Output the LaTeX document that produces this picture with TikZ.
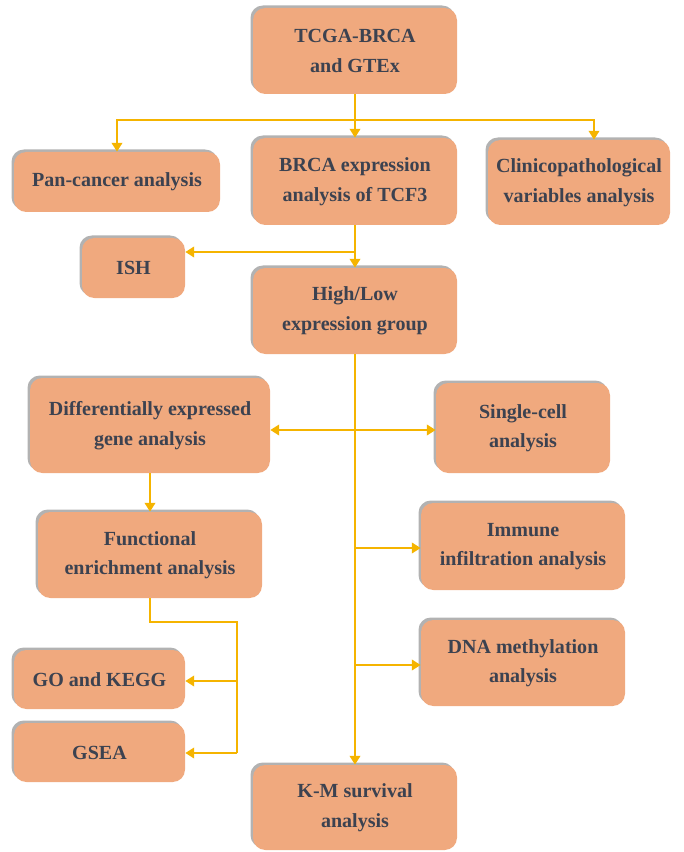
\documentclass[tikz,border=0pt]{standalone}
\usepackage{fontspec}
\setmainfont{Liberation Serif}
\usetikzlibrary{arrows.meta, shadows}

\definecolor{boxfill}{HTML}{F0A97E}
\definecolor{boxtext}{HTML}{3C4250}
\definecolor{flow}{HTML}{F5B400}

\begin{document}
\begin{tikzpicture}[
    box/.style={rectangle, rounded corners=7pt, fill=boxfill, align=center,
        text=boxtext, font=\fontsize{11.4}{16.8}\selectfont\bfseries, inner sep=2pt,
        drop shadow={shadow xshift=-0.05cm, shadow yshift=0.05cm, fill=black!60, opacity=0.5}},
    line/.style={draw=flow, line width=1.1pt},
    arr/.style={line, -{Triangle[width=6pt,length=5pt]}}
]
    \useasboundingbox (0,0) rectangle (13.66,-17.04);

    % boxes
    \node[box, minimum width=4.08cm, minimum height=1.72cm] (tcga) at (7.10,-1.02) {TCGA-BRCA\\and GTEx};
    \node[box, minimum width=4.12cm, minimum height=1.20cm] (pan) at (2.34,-3.64) {Pan-cancer analysis};
    \node[box, minimum width=4.08cm, minimum height=1.74cm] (brca) at (7.10,-3.63) {BRCA expression\\analysis of TCF3};
    \node[box, minimum width=3.64cm, minimum height=1.70cm] (clin) at (11.58,-3.65) {Clinicopathological\\variables analysis};
    \node[box, minimum width=2.06cm, minimum height=1.20cm] (ish) at (2.67,-5.36) {ISH};
    \node[box, minimum width=4.08cm, minimum height=1.72cm] (hl) at (7.10,-6.22) {High/Low\\expression group};
    \node[box, minimum width=4.80cm, minimum height=1.90cm] (deg) at (3.00,-8.51) {Differentially expressed\\gene analysis};
    \node[box, minimum width=3.48cm, minimum height=1.80cm] (sc) at (10.46,-8.56) {Single-cell\\analysis};
    \node[box, minimum width=4.48cm, minimum height=1.72cm] (fea) at (3.00,-11.10) {Functional\\enrichment analysis};
    \node[box, minimum width=4.08cm, minimum height=1.74cm] (imm) at (10.46,-10.93) {Immune\\infiltration analysis};
    \node[box, minimum width=4.08cm, minimum height=1.72cm] (dna) at (10.46,-13.26) {DNA methylation\\analysis};
    \node[box, minimum width=3.42cm, minimum height=1.18cm] (go) at (1.99,-13.59) {GO and KEGG};
    \node[box, minimum width=3.42cm, minimum height=1.18cm] (gsea) at (1.99,-15.05) {GSEA};
    \node[box, minimum width=4.08cm, minimum height=1.70cm] (km) at (7.10,-16.15) {K-M survival\\analysis};

    % junctions
    \coordinate (jtop) at (7.10,-2.40);
    \coordinate (jish) at (7.10,-5.04);
    \coordinate (jsc) at (7.10,-8.60);
    \coordinate (jimm) at (7.10,-10.96);
    \coordinate (jdna) at (7.10,-13.30);
    \coordinate (jf) at (4.74,-12.44);
    \coordinate (jgo) at (4.74,-13.62);
    \coordinate (jg) at (4.74,-15.06);

    \draw[line] (tcga) -- (jtop);
    \draw[arr] (jtop) -- (brca);
    \draw[arr] (jtop) -| (pan);
    \draw[arr] (jtop) -| ([xshift=0.30cm]clin.north);

    \draw[arr] (brca) -- (hl);
    \draw[arr] (jish) -- (jish -| ish.east);

    \draw[arr] (hl) -- (km);
    \draw[arr] (jsc) -- (jsc -| deg.east);
    \draw[arr] (jsc) -- (jsc -| sc.west);
    \draw[arr] (jimm) -- (jimm -| imm.west);
    \draw[arr] (jdna) -- (jdna -| dna.west);

    \draw[arr] (deg) -- (fea);
    \draw[line] (fea) |- (jf) -- (jg);
    \draw[arr] (jgo) -- (jgo -| go.east);
    \draw[arr] (jg) -- (jg -| gsea.east);
\end{tikzpicture}
\end{document}
